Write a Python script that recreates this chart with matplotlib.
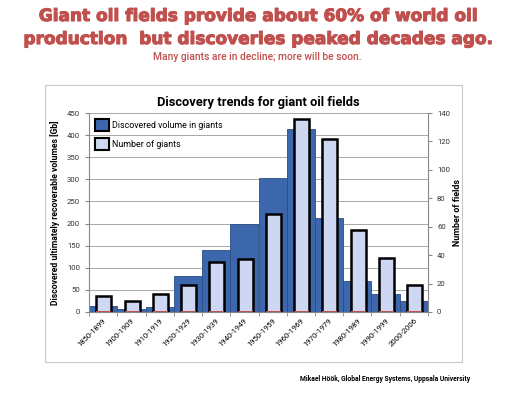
import matplotlib
matplotlib.use("Agg")
import matplotlib.pyplot as plt
from matplotlib import patheffects
from matplotlib.patches import Patch, Rectangle
import numpy as np

periods = ["1850-1899", "1900-1909", "1910-1919", "1920-1929", "1930-1939", "1940-1949",
           "1950-1959", "1960-1969", "1970-1979", "1980-1989", "1990-1999", "2000-2006"]
volume_gb = [14, 7, 12, 82, 140, 200, 302, 413, 213, 69, 40, 25]
n_giants = [11, 8, 13, 19, 35, 37, 69, 136, 122, 58, 38, 19]
n_red = [1, 1, 1, 1, 1, 1, 1, 1, 1, 1, 1, 1]

RED = "#C0504D"
BLUE = "#3C67AD"
LIGHT = "#CED7F1"

plt.rcParams["font.family"] = ["Roboto", "DejaVu Sans"]

fig = plt.figure(figsize=(5.15, 3.93), dpi=100)
fig.patch.set_facecolor("white")

# heavy headline (Arial Black look)
heavy = [patheffects.withStroke(linewidth=0.8, foreground=RED)]
for yy, line in ((16, "Giant oil fields provide about 60% of world oil"),
                 (39, "production  but discoveries peaked decades ago.")):
    fig.text(0.5, 1 - yy / 393, line, ha="center", va="center", color=RED,
             fontsize=12.2, fontweight="bold", family="DejaVu Sans", path_effects=heavy)
fig.text(0.5, 1 - 57 / 393, "Many giants are in decline; more will be soon.",
         ha="center", va="center", color=RED, fontsize=7.4, fontweight="medium")
fig.text(470 / 515, 1 - 379 / 393, "Mikael Höök, Global Energy Systems, Uppsala University",
         ha="right", va="center", color="black", fontsize=4.9, fontweight="bold")

# chart frame
fig.patches.append(Rectangle((45 / 515, 1 - 362 / 393), 417 / 515, 277 / 393,
                             transform=fig.transFigure, fill=False,
                             edgecolor="#C8C8C8", lw=0.8))

ax = fig.add_axes([89 / 515, 1 - 312 / 393, 339 / 515, 199 / 393])
x = np.arange(len(periods))
ax.bar(x, volume_gb, width=1.0, color=BLUE, edgecolor="#2A4C86", lw=0.6, zorder=2)
ax.set_xlim(-0.5, len(periods) - 0.5)
ax.set_ylim(0, 450)
ax.set_yticks(np.arange(0, 451, 50))
ax.yaxis.grid(True, color="#A8A8A8", lw=0.7, zorder=0)
ax.set_axisbelow(True)
ax.set_xticks(x)
ax.set_xticklabels(periods, rotation=45, ha="right", rotation_mode="anchor", fontsize=5.6)
ax.set_xticks(np.arange(-0.5, len(periods), 1), minor=True)
ax.tick_params(axis="x", which="major", length=0, pad=4)
ax.tick_params(axis="x", which="minor", length=3, color="#888888")
ax.tick_params(axis="y", labelsize=5.6, length=3, color="#888888", labelcolor="#333333")
for s in ["top", "right"]:
    ax.spines[s].set_visible(False)
for s in ["left", "bottom"]:
    ax.spines[s].set_color("#888888")
ax.set_ylabel("Discovered ultimately recoverable volumes [Gb]", fontsize=6.2,
              fontweight="bold", labelpad=5)
ax.set_title("Discovery trends for giant oil fields", fontsize=9.3, fontweight="bold", pad=5)

ax2 = ax.twinx()
ax2.bar(x + 0.03, n_giants, width=0.53, color=LIGHT, edgecolor="black", lw=1.8, zorder=3)
ax2.bar(x + 0.03, n_red, width=0.53, color=RED, lw=0, zorder=4)
ax2.set_ylim(0, 140)
ax2.set_yticks(np.arange(0, 141, 20))
ax2.tick_params(axis="y", labelsize=5.6, length=3, color="#888888", labelcolor="#333333")
for s in ["top", "left", "bottom"]:
    ax2.spines[s].set_visible(False)
ax2.spines["right"].set_color("#888888")
ax2.set_ylabel("Number of fields", fontsize=6.4, fontweight="bold", labelpad=2)

handles = [Patch(facecolor=BLUE, edgecolor="black", lw=1.5),
           Patch(facecolor=LIGHT, edgecolor="black", lw=1.5)]
ax2.legend(handles, ["Discovered volume in giants", "Number of giants"],
           loc="upper left", frameon=False, fontsize=6.4, handlelength=1.6,
           handleheight=1.6, labelspacing=0.85, handletextpad=0.25,
           borderaxespad=0.3, bbox_to_anchor=(0.0, 1.0))

fig.savefig("out.png", dpi=100)
